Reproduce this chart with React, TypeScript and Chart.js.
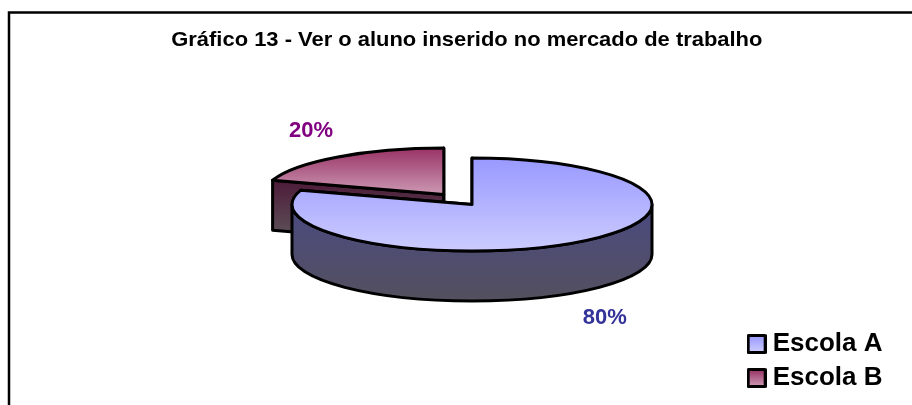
import React, { useEffect, useRef } from "react";
import { Chart, registerables } from "chart.js";

Chart.register(...registerables);

const chartTitle = "Gráfico 13 - Ver o aluno inserido no mercado de trabalho";
const categories = ["Escola A", "Escola B"];
const shareValues = [80, 20];

const sliceOffsets = [0, 48];
const topStops = [["#9999ff", "#ccccff"], ["#993366", "#cc99b3"]];
const wallStops = [["#4a4a80", "#54505f"], ["#4d1a38", "#5b4b55"]];
const labelColors = ["#333399", "#800080"];
const FONT = "'Liberation Sans', Arial, sans-serif";
const TITLE_STRETCH = 1.06;

function makeSwatch(stops: string[]) {
  const c = document.createElement("canvas");
  c.width = 20;
  c.height = 20;
  const g = c.getContext("2d")!;
  const gr = g.createLinearGradient(0, 2, 0, 18);
  gr.addColorStop(0, stops[0]);
  gr.addColorStop(1, stops[1]);
  g.fillStyle = gr;
  g.strokeStyle = "#000";
  g.lineWidth = 3;
  g.lineJoin = "round";
  g.beginPath();
  g.rect(1.5, 1.5, 17, 17);
  g.fill();
  g.stroke();
  return c;
}

const piePlugin = {
  id: "pie3d",
  beforeDraw(chart: any) {
    const { ctx, width, height } = chart;
    ctx.save();
    ctx.fillStyle = "#fff";
    ctx.fillRect(0, 0, width, height);
    ctx.strokeStyle = "#000";
    ctx.lineWidth = 2.5;
    ctx.strokeRect(9, 12.5, width + 50, height + 50);
    ctx.restore();

    // the reference's title is horizontally stretched: widen it when it is drawn
    const tb = chart.titleBlock;
    if (tb && !tb.__stretched) {
      tb.__stretched = true;
      const original = tb.draw.bind(tb);
      tb.draw = () => {
        const mid = (tb.left + tb.right) / 2;
        ctx.save();
        ctx.translate(mid, 0);
        ctx.scale(TITLE_STRETCH, 1);
        ctx.translate(-mid, 0);
        original();
        ctx.restore();
      };
    }
  },
  beforeDatasetDraw(chart: any, args: any, opts: any) {
    const { ctx } = chart;
    const k: number = opts.squash;
    const depth: number = opts.depth;
    const arcs = args.meta.data;
    const total = shareValues.reduce((a, b) => a + b, 0);

    const geometry = arcs.map((arc: any) => {
      const p = arc.getProps(["x", "y", "startAngle", "endAngle", "outerRadius"], true);
      const mid = (p.startAngle + p.endAngle) / 2;
      const off = arc.options.offset || 0;
      return {
        cx: opts.centerX + Math.cos(mid) * off,
        cy: opts.centerY + Math.sin(mid) * off * k,
        r: p.outerRadius,
        a0: p.startAngle,
        a1: p.endAngle,
        mid,
        off,
      };
    });

    ctx.save();
    ctx.strokeStyle = "#000";
    ctx.lineWidth = 3;
    ctx.lineJoin = "round";

    const grad = (y0: number, y1: number, stops: string[]) => {
      const g = ctx.createLinearGradient(0, y0, 0, y1);
      g.addColorStop(0, stops[0]);
      g.addColorStop(1, stops[1]);
      return g;
    };

    for (let i = arcs.length - 1; i >= 0; i--) {
      const { cx, cy, r, a0, a1 } = geometry[i];
      const ry = r * k;
      const pts = [a0, a1].map((a) => [cx + Math.cos(a) * r, cy + Math.sin(a) * ry]);

      // radial faces
      for (const [px, py] of pts) {
        const y0 = Math.min(cy, py);
        ctx.fillStyle = grad(y0, y0 + depth, wallStops[i]);
        ctx.beginPath();
        ctx.moveTo(cx, cy);
        ctx.lineTo(px, py);
        ctx.lineTo(px, py + depth);
        ctx.lineTo(cx, cy + depth);
        ctx.closePath();
        ctx.fill();
        ctx.stroke();
      }

      // outer wall, front half only
      const TAU = Math.PI * 2;
      let s = a0;
      let e = a1;
      while (s < -Math.PI / 2) { s += TAU; e += TAU; }
      const from = Math.max(s, 0);
      const to = Math.min(e, Math.PI);
      if (to > from) {
        ctx.fillStyle = grad(cy, cy + ry + depth, wallStops[i]);
        ctx.beginPath();
        ctx.ellipse(cx, cy, r, ry, 0, from, to);
        ctx.lineTo(cx + Math.cos(to) * r, cy + Math.sin(to) * ry + depth);
        ctx.ellipse(cx, cy + depth, r, ry, 0, to, from, true);
        ctx.closePath();
        ctx.fill();
        ctx.stroke();
      }

      // top surface
      const top = cy - ry;
      const bottom = e > Math.PI / 2 && s < Math.PI / 2 ? cy + ry : cy;
      ctx.fillStyle = grad(top, bottom, topStops[i]);
      ctx.beginPath();
      ctx.moveTo(cx, cy);
      ctx.ellipse(cx, cy, r, ry, 0, a0, a1);
      ctx.closePath();
      ctx.fill();
      ctx.stroke();
    }

    // value labels
    ctx.font = `bold ${opts.labelSize}px ${FONT}`;
    ctx.textAlign = "center";
    ctx.textBaseline = "middle";
    geometry.forEach((g: any, i: number) => {
      const d = g.r * opts.labelRadius;
      const lx = g.cx + Math.cos(g.mid) * d;
      const sin = Math.sin(g.mid);
      let ly = g.cy + sin * d * k;
      ly += sin > 0 ? depth + opts.labelGap : -opts.labelGap;
      ctx.fillStyle = labelColors[i];
      ctx.fillText(`${Math.round((shareValues[i] / total) * 100)}%`, lx, ly);
    });

    ctx.restore();
    return false;
  },
};

export default function App() {
  const ref = useRef<HTMLCanvasElement>(null);
  useEffect(() => {
    document.body.style.margin = "0";
    const swatches = topStops.map(makeSwatch);
    const chart = new Chart(ref.current!, {
      type: "pie",
      data: {
        labels: categories,
        datasets: [
          {
            data: shareValues,
            backgroundColor: topStops.map((s) => s[0]),
            borderWidth: 0,
            offset: sliceOffsets,
            radius: 180,
          } as any,
        ],
      },
      plugins: [piePlugin],
      options: {
        responsive: false,
        animation: false,
        layout: { padding: { left: 188, right: 19.5, top: 0, bottom: 6 } },
        plugins: {
          title: {
            display: true,
            text: chartTitle,
            fullSize: false,
            color: "#000",
            font: { family: FONT, size: 21, weight: "bold", lineHeight: 1.2 },
            padding: { top: 28, bottom: 10 },
          },
          legend: {
            display: true,
            position: "right",
            align: "end",
            labels: {
              color: "#000",
              font: { family: FONT, size: 26, weight: "bold" },
              usePointStyle: true,
              pointStyleWidth: 6,
              boxHeight: 20,
              padding: 8,
              generateLabels: () =>
                categories.map((text, i) => ({
                  text,
                  pointStyle: swatches[i],
                  fillStyle: topStops[i][0],
                  strokeStyle: "#000",
                  lineWidth: 0,
                  hidden: false,
                  index: i,
                  datasetIndex: 0,
                })),
            },
          },
          tooltip: { enabled: false },
          pie3d: {
            centerX: 472,
            centerY: 204.5,
            squash: 0.258,
            depth: 50,
            labelSize: 22,
            labelRadius: 1.255,
            labelGap: 16,
          },
        } as any,
      },
    });
    return () => chart.destroy();
  }, []);
  return (
    <div style={{ position: "absolute", left: 0, top: 0, width: 912, height: 405 }}>
      <canvas ref={ref} width={912} height={405} style={{ display: "block" }} />
    </div>
  );
}
